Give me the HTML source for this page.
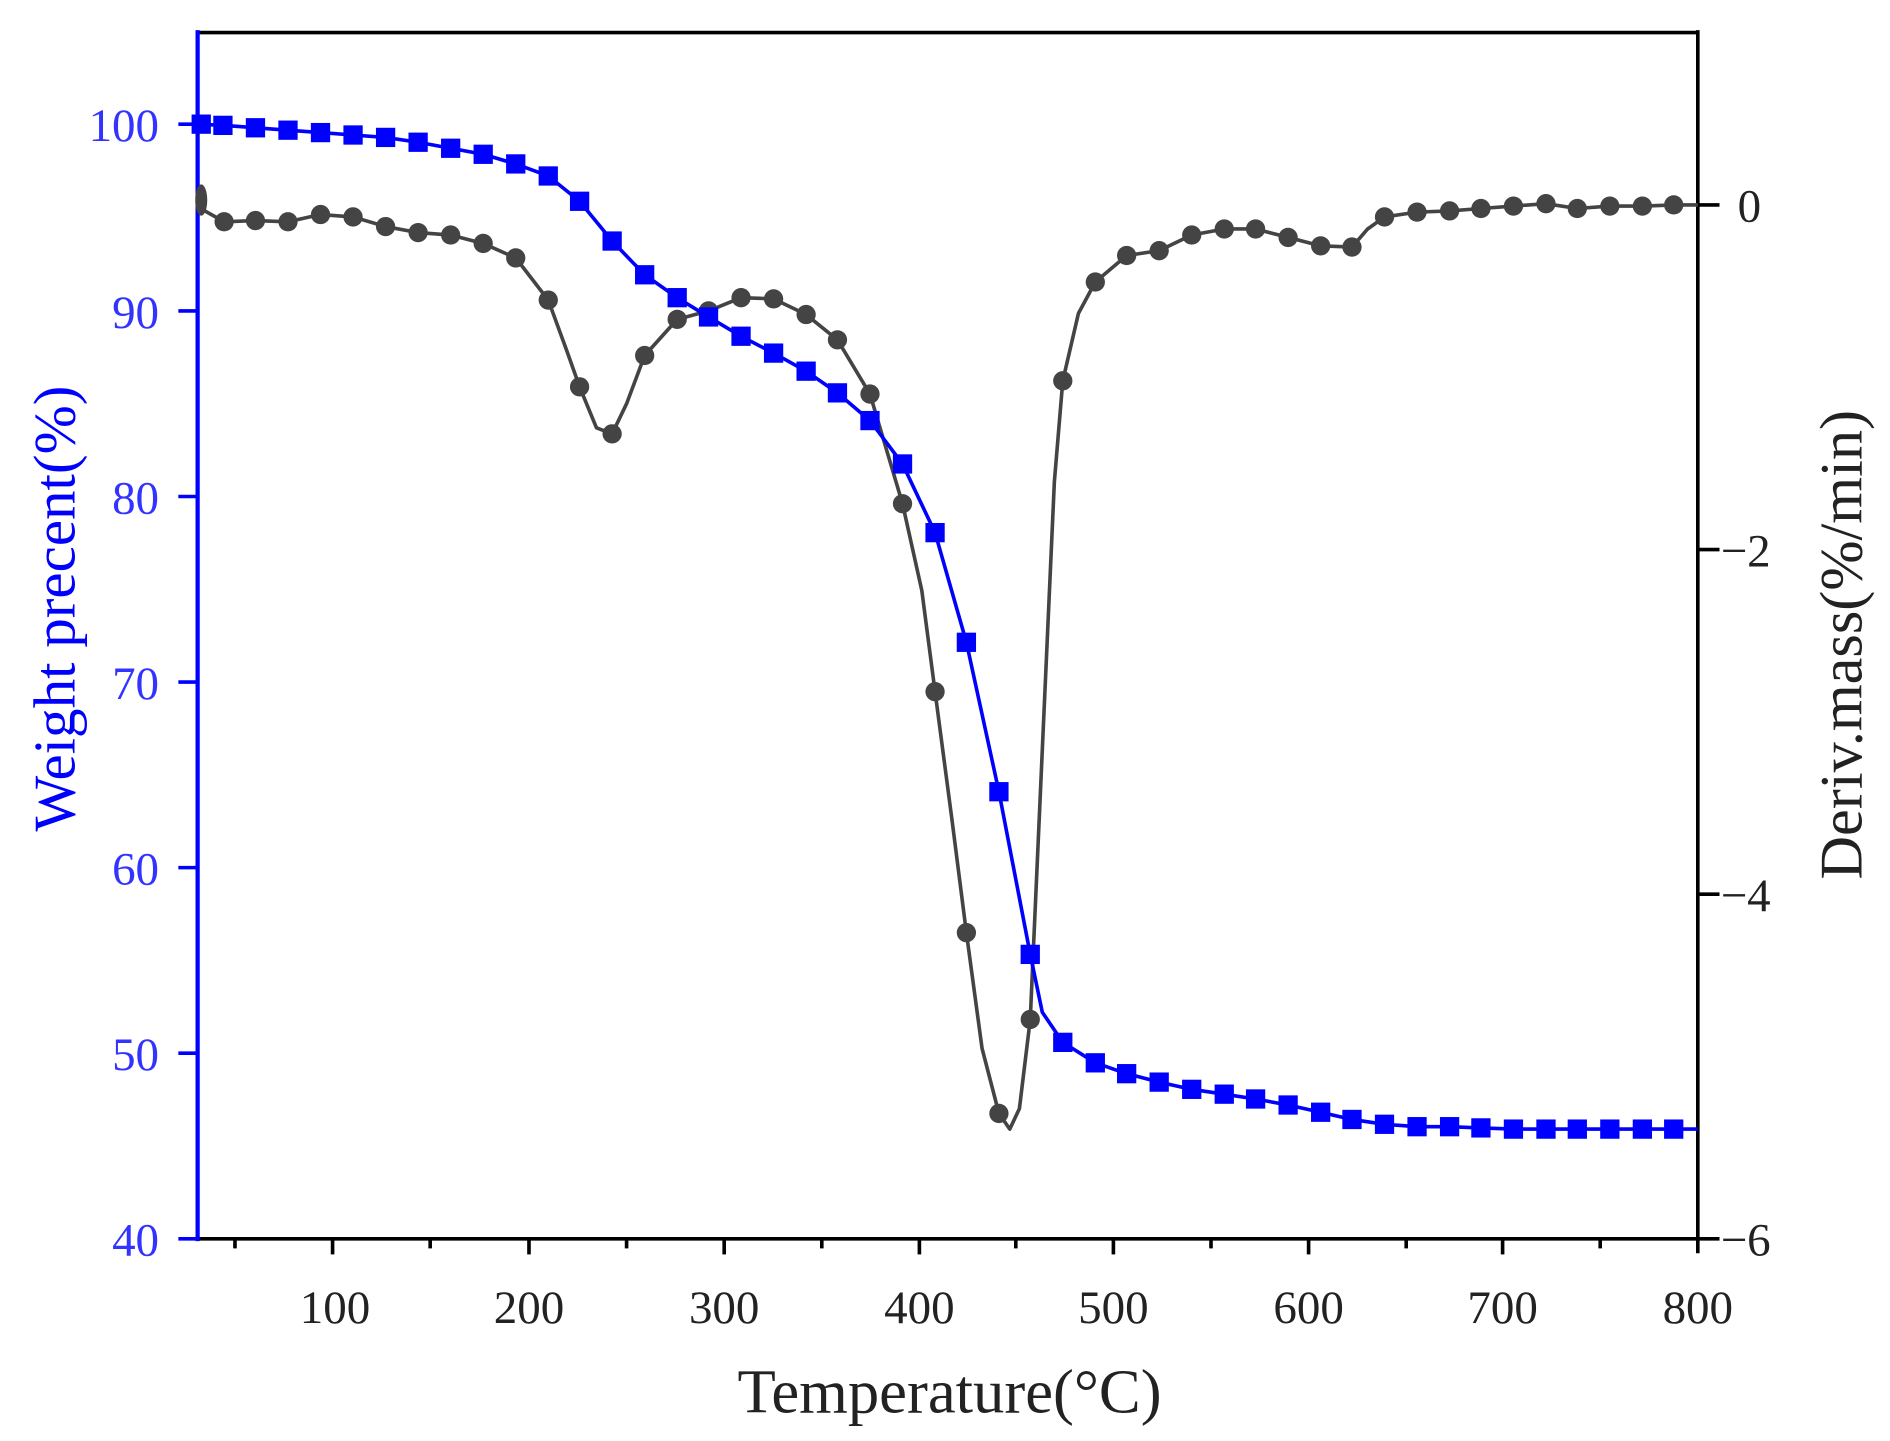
<!DOCTYPE html>
<html><head><meta charset="utf-8"><style>html,body{margin:0;padding:0;background:#fff}svg{display:block}</style></head>
<body>
<svg width="1890" height="1441" viewBox="0 0 1568.5 1195.8" xmlns="http://www.w3.org/2000/svg" font-family="Liberation Serif, serif">
<rect width="1568.5" height="1195.8" fill="#fff"/>
<line x1="163" y1="27" x2="1410" y2="27" stroke="#000" stroke-width="3"/>
<line x1="163" y1="1028" x2="1410" y2="1028" stroke="#000" stroke-width="3"/>
<line x1="1409" y1="25" x2="1409" y2="1040" stroke="#000" stroke-width="3"/>
<g stroke="#000" stroke-width="3">
<line x1="276" y1="1028" x2="276" y2="1041"/><line x1="439" y1="1028" x2="439" y2="1041"/><line x1="601" y1="1028" x2="601" y2="1041"/><line x1="763" y1="1028" x2="763" y2="1041"/><line x1="924" y1="1028" x2="924" y2="1041"/><line x1="1086" y1="1028" x2="1086" y2="1041"/><line x1="1247" y1="1028" x2="1247" y2="1041"/>
<line x1="195" y1="1028" x2="195" y2="1036"/><line x1="357" y1="1028" x2="357" y2="1036"/><line x1="520" y1="1028" x2="520" y2="1036"/><line x1="682" y1="1028" x2="682" y2="1036"/><line x1="843" y1="1028" x2="843" y2="1036"/><line x1="1005" y1="1028" x2="1005" y2="1036"/><line x1="1167" y1="1028" x2="1167" y2="1036"/><line x1="1328" y1="1028" x2="1328" y2="1036"/>
<line x1="1409" y1="170" x2="1427" y2="170"/><line x1="1409" y1="456" x2="1427" y2="456"/><line x1="1409" y1="742" x2="1427" y2="742"/><line x1="1409" y1="1028" x2="1427" y2="1028"/>
</g>
<g font-size="39" fill="#222" text-anchor="middle">
<text x="278" y="1098">100</text><text x="439" y="1098">200</text><text x="601" y="1098">300</text><text x="763" y="1098">400</text><text x="924" y="1098">500</text><text x="1086" y="1098">600</text><text x="1247" y="1098">700</text><text x="1409" y="1098">800</text>
</g>
<g font-size="39" fill="#222">
<text x="1442" y="184">0</text><text x="1428" y="470">−2</text><text x="1428" y="756">−4</text><text x="1428" y="1042">−6</text>
</g>
<line x1="164" y1="25" x2="164" y2="1030" stroke="#0000ff" stroke-width="3.5"/>
<g stroke="#0000ff" stroke-width="3">
<line x1="148" y1="103" x2="164" y2="103"/><line x1="148" y1="258" x2="164" y2="258"/><line x1="148" y1="412" x2="164" y2="412"/><line x1="148" y1="566" x2="164" y2="566"/><line x1="148" y1="720" x2="164" y2="720"/><line x1="148" y1="874" x2="164" y2="874"/><line x1="148" y1="1028" x2="164" y2="1028"/>
</g>
<g font-size="39" fill="#3333ff" text-anchor="end">
<text x="132" y="117">100</text><text x="132" y="272">90</text><text x="132" y="426">80</text><text x="132" y="580">70</text><text x="132" y="734">60</text><text x="132" y="888">50</text><text x="132" y="1042">40</text>
</g>
<text transform="translate(62,505) rotate(-90)" font-size="49" fill="#0000ff" text-anchor="middle">Weight precent(%)</text>
<text transform="translate(1545,535) rotate(-90)" font-size="50" fill="#222" text-anchor="middle">Deriv.mass(%/min)</text>
<text x="788" y="1172" font-size="52" fill="#222" text-anchor="middle">Temperature(°C)</text>
<polyline fill="none" stroke="#444" stroke-width="3" stroke-linejoin="round" points="165,160 170,175 186,184 212,183 239,184 266,178 293,180 320,188 347,193 374,195 401,202 428,214 455,249 470,290 481,321 495,355 508,360 520,335 535,295 562,265 588,258 615,247 642,248 669,261 695,282 722,327 749,418 765,490 776,574 790,680 802,774 815,870 829,924 838,937 846,920 855,846 866,600 875,400 882,316 895,260 909,234 935,212 962,208 989,195 1016,190 1042,190 1069,197 1096,204 1122,205 1135,190 1149,180 1176,176 1203,175 1229,173 1256,171 1283,169 1309,173 1336,171 1363,171 1389,170 1409,170"/>
<g fill="#444">
<circle cx="186" cy="184" r="8"/><circle cx="212" cy="183" r="8"/><circle cx="239" cy="184" r="8"/><circle cx="266" cy="178" r="8"/><circle cx="293" cy="180" r="8"/><circle cx="320" cy="188" r="8"/><circle cx="347" cy="193" r="8"/><circle cx="374" cy="195" r="8"/><circle cx="401" cy="202" r="8"/><circle cx="428" cy="214" r="8"/><circle cx="455" cy="249" r="8"/><circle cx="481" cy="321" r="8"/><circle cx="508" cy="360" r="8"/><circle cx="535" cy="295" r="8"/><circle cx="562" cy="265" r="8"/><circle cx="588" cy="258" r="8"/><circle cx="615" cy="247" r="8"/><circle cx="642" cy="248" r="8"/><circle cx="669" cy="261" r="8"/><circle cx="695" cy="282" r="8"/><circle cx="722" cy="327" r="8"/><circle cx="749" cy="418" r="8"/><circle cx="776" cy="574" r="8"/><circle cx="802" cy="774" r="8"/><circle cx="829" cy="924" r="8"/><circle cx="855" cy="846" r="8"/><circle cx="882" cy="316" r="8"/><circle cx="909" cy="234" r="8"/><circle cx="935" cy="212" r="8"/><circle cx="962" cy="208" r="8"/><circle cx="989" cy="195" r="8"/><circle cx="1016" cy="190" r="8"/><circle cx="1042" cy="190" r="8"/><circle cx="1069" cy="197" r="8"/><circle cx="1096" cy="204" r="8"/><circle cx="1122" cy="205" r="8"/><circle cx="1149" cy="180" r="8"/><circle cx="1176" cy="176" r="8"/><circle cx="1203" cy="175" r="8"/><circle cx="1229" cy="173" r="8"/><circle cx="1256" cy="171" r="8"/><circle cx="1283" cy="169" r="8"/><circle cx="1309" cy="173" r="8"/><circle cx="1336" cy="171" r="8"/><circle cx="1363" cy="171" r="8"/><circle cx="1389" cy="170" r="8"/>
<ellipse cx="167" cy="166" rx="5" ry="13"/>
</g>
<polyline fill="none" stroke="#0000ff" stroke-width="3" stroke-linejoin="round" points="164,103 185,104 212,106 239,108 266,110 293,112 320,114 347,118 374,123 401,128 428,136 455,146 481,167 508,200 535,228 562,247 588,263 615,279 642,293 669,308 695,326 722,349 749,385 776,442 802,533 829,657 855,792 865,840 882,865 909,882 935,891 962,898 989,904 1016,908 1042,912 1069,917 1096,923 1122,929 1149,933 1176,935 1203,935 1229,936 1256,937 1283,937 1309,937 1336,937 1363,937 1389,937 1409,937"/>
<g fill="#0000ff">
<rect x="159" y="95" width="16" height="16"/><rect x="177" y="96" width="16" height="16"/><rect x="204" y="98" width="16" height="16"/><rect x="231" y="100" width="16" height="16"/><rect x="258" y="102" width="16" height="16"/><rect x="285" y="104" width="16" height="16"/><rect x="312" y="106" width="16" height="16"/><rect x="339" y="110" width="16" height="16"/><rect x="366" y="115" width="16" height="16"/><rect x="393" y="120" width="16" height="16"/><rect x="420" y="128" width="16" height="16"/><rect x="447" y="138" width="16" height="16"/><rect x="473" y="159" width="16" height="16"/><rect x="500" y="192" width="16" height="16"/><rect x="527" y="220" width="16" height="16"/><rect x="554" y="239" width="16" height="16"/><rect x="580" y="255" width="16" height="16"/><rect x="607" y="271" width="16" height="16"/><rect x="634" y="285" width="16" height="16"/><rect x="661" y="300" width="16" height="16"/><rect x="687" y="318" width="16" height="16"/><rect x="714" y="341" width="16" height="16"/><rect x="741" y="377" width="16" height="16"/><rect x="768" y="434" width="16" height="16"/><rect x="794" y="525" width="16" height="16"/><rect x="821" y="649" width="16" height="16"/><rect x="847" y="784" width="16" height="16"/><rect x="874" y="857" width="16" height="16"/><rect x="901" y="874" width="16" height="16"/><rect x="927" y="883" width="16" height="16"/><rect x="954" y="890" width="16" height="16"/><rect x="981" y="896" width="16" height="16"/><rect x="1008" y="900" width="16" height="16"/><rect x="1034" y="904" width="16" height="16"/><rect x="1061" y="909" width="16" height="16"/><rect x="1088" y="915" width="16" height="16"/><rect x="1114" y="921" width="16" height="16"/><rect x="1141" y="925" width="16" height="16"/><rect x="1168" y="927" width="16" height="16"/><rect x="1195" y="927" width="16" height="16"/><rect x="1221" y="928" width="16" height="16"/><rect x="1248" y="929" width="16" height="16"/><rect x="1275" y="929" width="16" height="16"/><rect x="1301" y="929" width="16" height="16"/><rect x="1328" y="929" width="16" height="16"/><rect x="1355" y="929" width="16" height="16"/><rect x="1381" y="929" width="16" height="16"/>
</g>
</svg>
</body></html>
